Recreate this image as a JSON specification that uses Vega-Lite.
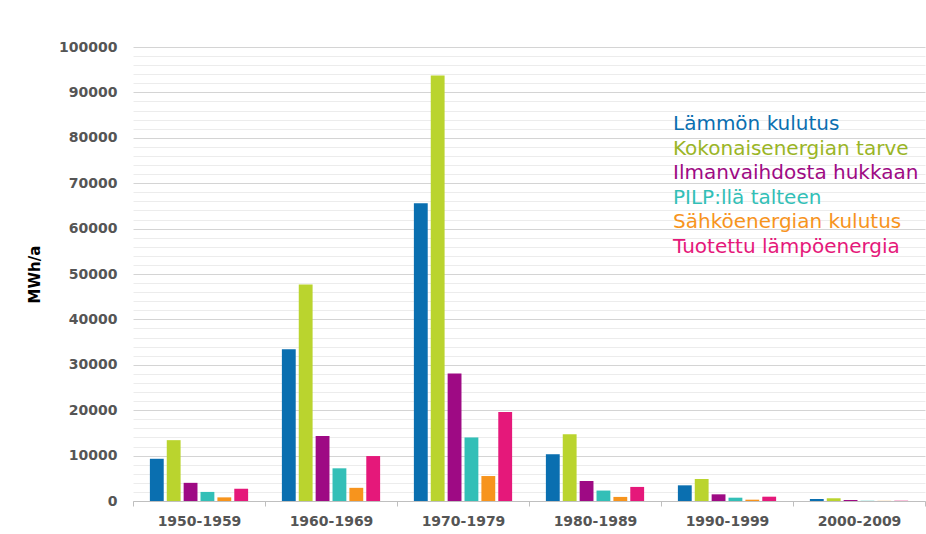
{
  "$schema": "https://vega.github.io/schema/vega-lite/v6.json",
  "width": 792,
  "height": 454,
  "autosize": {"type": "none"},
  "padding": {"left": 133, "top": 47, "right": 1, "bottom": 33},
  "background": "white",
  "config": {
    "font": "DejaVu Sans",
    "view": {"stroke": null}
  },
  "data": {
    "values": [
      {"decade": "1950-1959", "series": "Lämmön kulutus", "value": 9300},
      {"decade": "1950-1959", "series": "Kokonaisenergian tarve", "value": 13400},
      {"decade": "1950-1959", "series": "Ilmanvaihdosta hukkaan", "value": 4000},
      {"decade": "1950-1959", "series": "PILP:llä talteen", "value": 2000},
      {"decade": "1950-1959", "series": "Sähköenergian kulutus", "value": 800},
      {"decade": "1950-1959", "series": "Tuotettu lämpöenergia", "value": 2700},
      {"decade": "1960-1969", "series": "Lämmön kulutus", "value": 33400},
      {"decade": "1960-1969", "series": "Kokonaisenergian tarve", "value": 47700},
      {"decade": "1960-1969", "series": "Ilmanvaihdosta hukkaan", "value": 14300},
      {"decade": "1960-1969", "series": "PILP:llä talteen", "value": 7200},
      {"decade": "1960-1969", "series": "Sähköenergian kulutus", "value": 2900},
      {"decade": "1960-1969", "series": "Tuotettu lämpöenergia", "value": 9900},
      {"decade": "1970-1979", "series": "Lämmön kulutus", "value": 65600},
      {"decade": "1970-1979", "series": "Kokonaisenergian tarve", "value": 93700},
      {"decade": "1970-1979", "series": "Ilmanvaihdosta hukkaan", "value": 28100},
      {"decade": "1970-1979", "series": "PILP:llä talteen", "value": 14000},
      {"decade": "1970-1979", "series": "Sähköenergian kulutus", "value": 5500},
      {"decade": "1970-1979", "series": "Tuotettu lämpöenergia", "value": 19600},
      {"decade": "1980-1989", "series": "Lämmön kulutus", "value": 10300},
      {"decade": "1980-1989", "series": "Kokonaisenergian tarve", "value": 14700},
      {"decade": "1980-1989", "series": "Ilmanvaihdosta hukkaan", "value": 4400},
      {"decade": "1980-1989", "series": "PILP:llä talteen", "value": 2300},
      {"decade": "1980-1989", "series": "Sähköenergian kulutus", "value": 900},
      {"decade": "1980-1989", "series": "Tuotettu lämpöenergia", "value": 3100},
      {"decade": "1990-1999", "series": "Lämmön kulutus", "value": 3450},
      {"decade": "1990-1999", "series": "Kokonaisenergian tarve", "value": 4850},
      {"decade": "1990-1999", "series": "Ilmanvaihdosta hukkaan", "value": 1470},
      {"decade": "1990-1999", "series": "PILP:llä talteen", "value": 730},
      {"decade": "1990-1999", "series": "Sähköenergian kulutus", "value": 290},
      {"decade": "1990-1999", "series": "Tuotettu lämpöenergia", "value": 950},
      {"decade": "2000-2009", "series": "Lämmön kulutus", "value": 440},
      {"decade": "2000-2009", "series": "Kokonaisenergian tarve", "value": 600},
      {"decade": "2000-2009", "series": "Ilmanvaihdosta hukkaan", "value": 220},
      {"decade": "2000-2009", "series": "PILP:llä talteen", "value": 50},
      {"decade": "2000-2009", "series": "Sähköenergian kulutus", "value": 30},
      {"decade": "2000-2009", "series": "Tuotettu lämpöenergia", "value": 60}
    ]
  },
  "mark": {"type": "bar"},
  "encoding": {
    "x": {
      "field": "decade",
      "type": "nominal",
      "sort": null,
      "scale": {"paddingInner": 0, "paddingOuter": 0},
      "axis": {
        "title": null,
        "labelAngle": 0,
        "labelFontSize": 14,
        "labelFontWeight": "bold",
        "labelColor": "#555555",
        "labelPadding": 8,
        "domainColor": "#bfbfbf",
        "tickColor": "#bfbfbf",
        "tickSize": 5,
        "tickBand": "extent",
        "grid": false
      }
    },
    "xOffset": {
      "field": "series",
      "type": "nominal",
      "sort": null,
      "scale": {"paddingInner": 0.18, "paddingOuter": 1.065}
    },
    "y": {
      "field": "value",
      "type": "quantitative",
      "scale": {"domain": [0, 100000], "nice": false},
      "axis": {
        "title": "MWh/a",
        "titleFontSize": 15,
        "titleFontWeight": "bold",
        "titleColor": "#000000",
        "titlePadding": 16,
        "tickCount": 50,
        "labelOverlap": false,
        "labelExpr": "datum.value % 10000 === 0 ? format(datum.value, 'd') : ''",
        "labelFontSize": 14,
        "labelFontWeight": "bold",
        "labelColor": "#555555",
        "labelPadding": 16,
        "domain": false,
        "ticks": false,
        "grid": true,
        "gridColor": {"condition": {"test": "datum.value % 10000 === 0", "value": "#d4d4d4"}, "value": "#ececec"},
        "gridWidth": 1
      }
    },
    "color": {
      "field": "series",
      "type": "nominal",
      "scale": {
        "domain": ["Lämmön kulutus", "Kokonaisenergian tarve", "Ilmanvaihdosta hukkaan", "PILP:llä talteen", "Sähköenergian kulutus", "Tuotettu lämpöenergia"],
        "range": ["#0a6fb0", "#bad42e", "#9e0a84", "#33bfb7", "#f7941d", "#e5187a"]
      },
      "legend": {
        "title": null,
        "orient": "none",
        "legendX": 520,
        "legendY": 67,
        "symbolSize": 0,
        "symbolOpacity": 0,
        "symbolStrokeWidth": 0,
        "labelOffset": 0,
        "labelFontSize": 20,
        "labelLimit": 400,
        "rowPadding": 4.5,
        "padding": 0,
        "encode": {
          "labels": {"update": {"fill": [{"test": "datum.value === 'Kokonaisenergian tarve'", "value": "#9ab526"}, {"scale": "color", "field": "value"}]}}
        }
      }
    }
  }
}
